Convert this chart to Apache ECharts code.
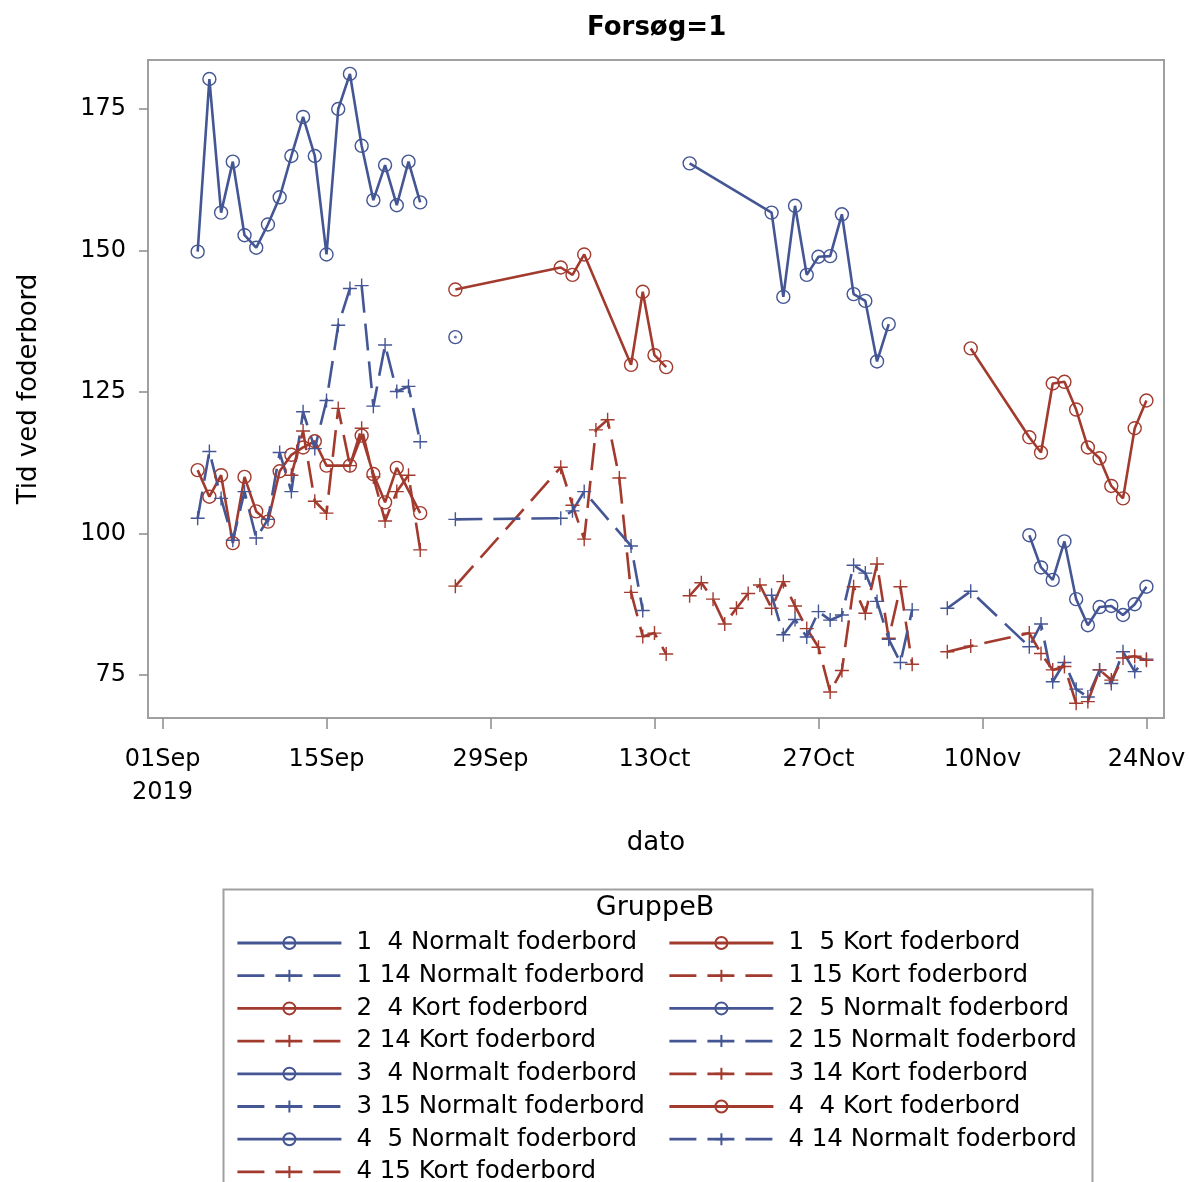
<!DOCTYPE html>
<html>
<head>
<meta charset="utf-8">
<script src="https://cdn.jsdelivr.net/npm/echarts@6/dist/echarts.min.js"></script>
<style>
html, body { margin: 0; padding: 0; background: #fff; }
#chart { width: 1189px; height: 1182px; }
</style>
</head>
<body>
<div id="chart"></div>
<script>
// Observation dates for each of the four periods
const datesP1 = ['2019-09-04','2019-09-05','2019-09-06','2019-09-07','2019-09-08','2019-09-09','2019-09-10',
  '2019-09-11','2019-09-12','2019-09-13','2019-09-14','2019-09-15','2019-09-16','2019-09-17','2019-09-18',
  '2019-09-19','2019-09-20','2019-09-21','2019-09-22','2019-09-23'];
const datesP2 = ['2019-09-26','2019-10-05','2019-10-06','2019-10-07','2019-10-08','2019-10-09','2019-10-10',
  '2019-10-11','2019-10-12','2019-10-13','2019-10-14'];
const datesP3 = ['2019-10-16','2019-10-17','2019-10-18','2019-10-19','2019-10-20','2019-10-21','2019-10-22',
  '2019-10-23','2019-10-24','2019-10-25','2019-10-26','2019-10-27','2019-10-28','2019-10-29','2019-10-30',
  '2019-10-31','2019-11-01','2019-11-02','2019-11-03','2019-11-04'];
const datesP4 = ['2019-11-07','2019-11-09','2019-11-14','2019-11-15','2019-11-16','2019-11-17','2019-11-18',
  '2019-11-19','2019-11-20','2019-11-21','2019-11-22','2019-11-23','2019-11-24'];

// Tid ved foderbord per group (null = no observation that day)
const p1_4N  = [149.8,180.3,156.7,165.7,152.7,150.5,154.6,159.4,166.7,173.6,166.7,149.3,175.0,181.2,168.5,158.9,165.1,158.0,165.7,158.5];
const p1_5K  = [111.2,106.5,110.3,98.3,110.0,103.9,102.1,111.0,113.9,115.2,116.3,112.0,null,112.0,117.3,110.5,105.5,111.6,null,103.6];
const p1_14N = [102.7,114.5,106.2,98.8,107.4,99.2,102.5,114.3,107.4,121.5,115.0,123.5,136.8,143.3,143.8,122.5,133.3,125.1,126.0,116.2];
const p1_15K = [null,null,null,null,null,null,null,null,110.3,118.1,105.7,103.6,122.1,112.0,118.6,110.0,102.2,107.4,110.3,97.1];

const p2_4K  = [143.1,147.0,145.7,149.3,null,null,null,129.8,142.7,131.5,129.4];
const p2_5N  = [134.7,null,null,null,null,null,null,null,null,null,null];
const p2_14K = [90.7,111.7,105.0,99.0,118.3,120.1,109.8,89.6,81.8,82.4,78.7];
const p2_15N = [102.5,102.7,104.0,107.4,null,null,null,97.8,86.4,null,null];

const p3_4N  = [165.4,null,null,null,null,null,null,156.7,141.8,157.9,145.7,148.9,149.0,156.4,142.3,141.1,130.4,137.0,null,null];
const p3_14K = [89.0,91.3,88.4,84.0,86.8,89.4,90.9,86.8,91.5,87.2,83.2,79.9,72.0,75.8,90.6,85.9,94.6,81.5,90.6,76.9];
const p3_15N = [null,null,null,null,null,null,null,89.1,82.1,84.8,81.7,86.2,84.7,85.6,94.4,93.0,88.0,81.3,77.2,86.5];

const p4_4K  = [null,132.7,117.0,114.3,126.5,126.8,121.9,115.2,113.3,108.4,106.2,118.6,123.5];
const p4_5N  = [null,null,99.7,94.0,91.8,98.6,88.4,83.8,87.0,87.2,85.6,87.5,90.6];
const p4_14N = [86.8,89.8,80.0,84.0,73.8,77.2,72.5,71.1,75.9,73.5,79.1,75.6,77.8];
const p4_15K = [79.1,80.1,82.4,78.8,75.9,76.5,70.0,70.3,75.9,74.1,78.0,78.3,77.6];

// Axis ticks
const xTickDates = ['2019-09-01','2019-09-15','2019-09-29','2019-10-13','2019-10-27','2019-11-10','2019-11-24'];
const yTicks = [75, 100, 125, 150, 175];
const monthNames = ['Jan','Feb','Mar','Apr','May','Jun','Jul','Aug','Sep','Oct','Nov','Dec'];

const BLUE = '#445694';
const RED = '#A23A2E';
const FONT = 'DejaVu Sans';
const PLUS = 'path://M6,0 L6,12 M0,6 L12,6';
const DAY = 86400000;

const ts = d => Date.parse(d + 'T00:00:00Z');

// Group definitions: label, dates, values, colour, dashed line with plus markers or solid with circles
const groups = [
  { name: '1  4 Normalt foderbord',  dates: datesP1, values: p1_4N,  color: BLUE, dashed: false },
  { name: '1  5 Kort foderbord',     dates: datesP1, values: p1_5K,  color: RED,  dashed: false },
  { name: '1 14 Normalt foderbord',  dates: datesP1, values: p1_14N, color: BLUE, dashed: true },
  { name: '1 15 Kort foderbord',     dates: datesP1, values: p1_15K, color: RED,  dashed: true },
  { name: '2  4 Kort foderbord',     dates: datesP2, values: p2_4K,  color: RED,  dashed: false },
  { name: '2  5 Normalt foderbord',  dates: datesP2, values: p2_5N,  color: BLUE, dashed: false },
  { name: '2 14 Kort foderbord',     dates: datesP2, values: p2_14K, color: RED,  dashed: true },
  { name: '2 15 Normalt foderbord',  dates: datesP2, values: p2_15N, color: BLUE, dashed: true },
  { name: '3  4 Normalt foderbord',  dates: datesP3, values: p3_4N,  color: BLUE, dashed: false },
  { name: '3 14 Kort foderbord',     dates: datesP3, values: p3_14K, color: RED,  dashed: true },
  { name: '3 15 Normalt foderbord',  dates: datesP3, values: p3_15N, color: BLUE, dashed: true },
  { name: '4  4 Kort foderbord',     dates: datesP4, values: p4_4K,  color: RED,  dashed: false },
  { name: '4  5 Normalt foderbord',  dates: datesP4, values: p4_5N,  color: BLUE, dashed: false },
  { name: '4 14 Normalt foderbord',  dates: datesP4, values: p4_14N, color: BLUE, dashed: true },
  { name: '4 15 Kort foderbord',     dates: datesP4, values: p4_15K, color: RED,  dashed: true }
];

function pairs(dates, values) {
  const out = [];
  values.forEach((v, i) => { if (v !== null) out.push([ts(dates[i]), v]); });
  return out;
}

const series = groups.map(g => ({
  name: g.name,
  type: 'line',
  data: pairs(g.dates, g.values),
  color: g.color,
  symbol: g.dashed ? PLUS : 'circle',
  symbolSize: g.dashed ? 14 : 13,
  showAllSymbol: true,
  animation: false,
  lineStyle: { color: g.color, width: 2.6, type: g.dashed ? [27, 11] : 'solid' },
  itemStyle: { color: 'rgba(0,0,0,0)', borderColor: g.color, borderWidth: 1.4 },
  emphasis: { disabled: true }
}));

// A single observation is drawn by the line as a dot at its centre
groups.forEach(g => {
  const d = pairs(g.dates, g.values);
  if (d.length === 1) {
    series.push({
      name: 'single',
      type: 'scatter',
      data: d,
      symbol: 'circle',
      symbolSize: 3,
      itemStyle: { color: g.color },
      silent: true,
      animation: false
    });
  }
});

// Legend: two columns, filled row by row
const leftCol = groups.filter((g, i) => i % 2 === 0).map(g => g.name);
const rightCol = groups.filter((g, i) => i % 2 === 1).map(g => g.name);
const ROW = 32.7;
const LEGEND_TOP = 925;

const legendBase = {
  orient: 'vertical',
  itemWidth: 104,
  itemHeight: 15,
  itemGap: ROW - 26,
  selectedMode: false,
  inactiveColor: '#000',
  lineStyle: { width: 2.8 },
  textStyle: { fontFamily: FONT, fontSize: 24.5, color: '#000', lineHeight: 26, padding: [0, 0, 0, 10] }
};

function dateLabel(v) {
  const d = new Date(v);
  const day = String(d.getUTCDate()).padStart(2, '0');
  const label = day + monthNames[d.getUTCMonth()];
  return v === ts(xTickDates[0]) ? label + '\n' + d.getUTCFullYear() : label;
}

const chart = echarts.init(document.getElementById('chart'), null, { renderer: 'canvas' });
chart.setOption({
  backgroundColor: '#fff',
  animation: false,
  title: {
    text: 'Forsøg=1',
    left: 582,
    top: 10,
    textStyle: { fontFamily: FONT, fontSize: 26, fontWeight: 'bold', color: '#000' }
  },
  grid: {
    left: 148, top: 60, right: 25, bottom: 464,
    show: true, borderColor: '#a0a0a0', borderWidth: 2, backgroundColor: '#fff'
  },
  xAxis: {
    type: 'value',
    min: ts('2019-09-01') - 1.24 * DAY,
    max: ts('2019-09-01') + 85.5 * DAY,
    name: 'dato',
    nameLocation: 'middle',
    nameGap: 112,
    nameTextStyle: { fontFamily: FONT, fontSize: 26, color: '#000' },
    axisLine: { show: false },
    splitLine: { show: false },
    axisTick: { show: true, length: 11, lineStyle: { color: '#8c8c8c', width: 1.5 }, customValues: xTickDates.map(ts) },
    axisLabel: {
      customValues: xTickDates.map(ts),
      margin: 25,
      fontFamily: FONT,
      fontSize: 24,
      color: '#000',
      lineHeight: 33,
      hideOverlap: false,
      formatter: dateLabel
    }
  },
  yAxis: {
    type: 'value',
    min: 67.4,
    max: 183.66,
    name: 'Tid ved foderbord',
    nameLocation: 'middle',
    nameGap: 106,
    nameTextStyle: { fontFamily: FONT, fontSize: 26, color: '#000' },
    axisLine: { show: false },
    splitLine: { show: false },
    axisTick: { show: true, length: 9, lineStyle: { color: '#8c8c8c', width: 1.5 }, customValues: yTicks },
    axisLabel: { customValues: yTicks, margin: 22, fontFamily: FONT, fontSize: 24, color: '#000' }
  },
  legend: [
    Object.assign({}, legendBase, { left: 231, top: LEGEND_TOP, data: leftCol.slice(0, 7) }),
    Object.assign({}, legendBase, { left: 231, top: LEGEND_TOP + 7 * ROW, data: leftCol.slice(7) }),
    Object.assign({}, legendBase, { left: 663, top: LEGEND_TOP, data: rightCol })
  ],
  graphic: [
    { type: 'rect', left: 221, top: 887, shape: { width: 869, height: 320 },
      style: { fill: 'none', stroke: '#a0a0a0', lineWidth: 2 }, silent: true, z: -1 },
    { type: 'text', x: 655, y: 894,
      style: { text: 'GruppeB', font: '27px "DejaVu Sans"', fill: '#000', textAlign: 'center' } }
  ],
  series: series
});
</script>
</body>
</html>
